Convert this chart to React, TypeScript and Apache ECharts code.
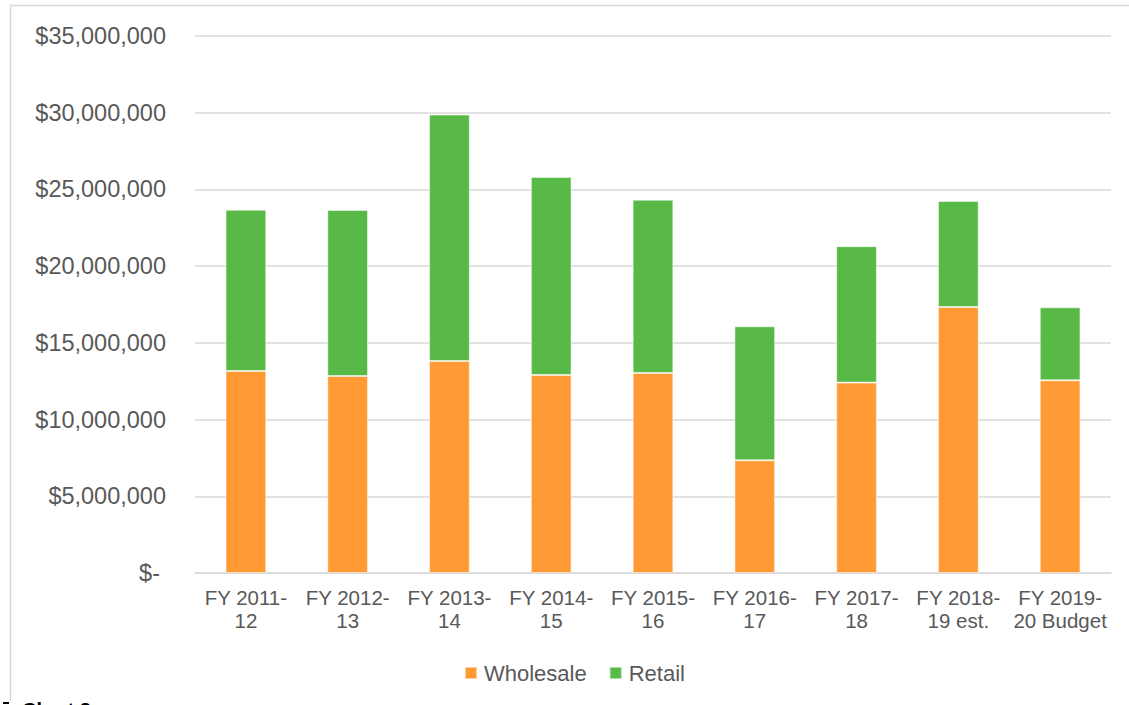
import React, { useEffect, useRef } from "react";
import * as echarts from "echarts";

const categories = [
  "FY 2011-\n12",
  "FY 2012-\n13",
  "FY 2013-\n14",
  "FY 2014-\n15",
  "FY 2015-\n16",
  "FY 2016-\n17",
  "FY 2017-\n18",
  "FY 2018-\n19 est.",
  "FY 2019-\n20 Budget",
];
const wholesale = [13170000, 12840000, 13820000, 12910000, 13040000, 7350000, 12410000, 17340000, 12560000];
const retail = [10510000, 10820000, 16060000, 12900000, 11290000, 8730000, 8890000, 6910000, 4760000];
const seriesNames = ["Wholesale", "Retail"];
const colors = ["#FF9A35", "#58B947"];

const FONT = "'Liberation Sans', Arial, sans-serif";

function fmt(v: number): string {
  if (v === 0) return "{z|$-}";
  return "$" + v.toLocaleString("en-US");
}

export default function App() {
  const ref = useRef<HTMLDivElement>(null);
  useEffect(() => {
    document.body.style.margin = "0";
    const chart = echarts.init(ref.current!, null, { renderer: "svg" });
    chart.setOption({
      animation: false,
      backgroundColor: "#ffffff",
      textStyle: { fontFamily: FONT },
      grid: { left: 195, right: 18, top: 36, bottom: 132 },
      legend: {
        top: 657,
        left: 459,
        itemWidth: 12,
        itemHeight: 12,
        itemGap: 22,
        icon: "rect",
        textStyle: { color: "#595959", fontSize: 22, fontFamily: FONT, padding: [0, 0, 0, 2] },
        data: seriesNames,
      },
      xAxis: {
        type: "category",
        data: categories,
        axisLine: { lineStyle: { color: "#D9D9D9", width: 1.5 } },
        axisTick: { show: false },
        axisLabel: {
          color: "#595959",
          fontSize: 20.5,
          fontFamily: FONT,
          lineHeight: 23,
          margin: 13,
          interval: 0,
        },
      },
      yAxis: {
        type: "value",
        min: 0,
        max: 35000000,
        interval: 5000000,
        axisLine: { show: false },
        axisTick: { show: false },
        splitLine: { lineStyle: { color: "#D9D9D9", width: 1.5 } },
        axisLabel: {
          color: "#595959",
          fontSize: 23.5,
          fontFamily: FONT,
          margin: 29,
          formatter: fmt,
          rich: { z: { color: "#595959", fontSize: 23.5, fontFamily: FONT, padding: [0, 6, 0, 0] } },
        },
      },
      series: [
        {
          name: seriesNames[0],
          type: "bar",
          stack: "total",
          data: wholesale,
          barWidth: "40%",
          itemStyle: { color: colors[0], borderColor: "rgba(255,255,255,0.5)", borderWidth: 1 },
        },
        {
          name: seriesNames[1],
          type: "bar",
          stack: "total",
          data: retail,
          barWidth: "40%",
          itemStyle: { color: colors[1], borderColor: "rgba(255,255,255,0.5)", borderWidth: 1 },
        },
      ],
      graphic: [
        { type: "line", shape: { x1: 10, y1: 5.5, x2: 1129, y2: 5.5 }, style: { stroke: "#D9D9D9", lineWidth: 1.5 } },
        { type: "line", shape: { x1: 10.5, y1: 5, x2: 10.5, y2: 701 }, style: { stroke: "#D9D9D9", lineWidth: 1.5 } },
        { type: "rect", shape: { x: 3, y: 702, width: 6, height: 2 }, style: { fill: "#000000" } },
        {
          type: "text",
          left: 22,
          top: 700,
          style: { text: "Chart 2", fill: "#000000", font: "bold 20px 'Liberation Sans', Arial, sans-serif" },
        },
      ],
    });
    return () => chart.dispose();
  }, []);
  return <div ref={ref} style={{ position: "absolute", left: 0, top: 0, width: 1129, height: 705 }} />;
}
